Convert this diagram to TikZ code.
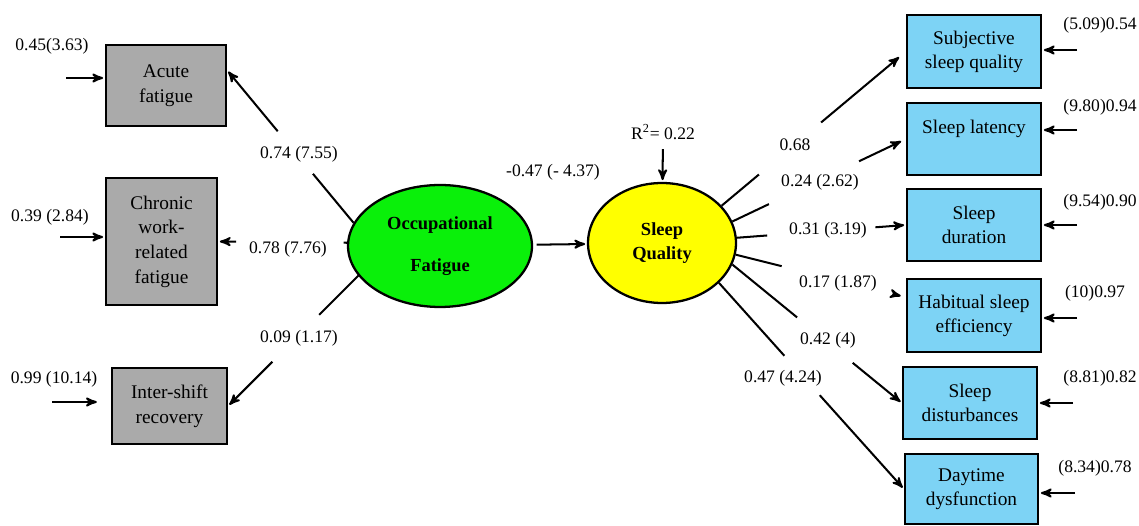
\documentclass[tikz,border=0pt]{standalone}
\usepackage{fontspec}
\setmainfont{Liberation Serif}
\usetikzlibrary{arrows,calc,shapes.geometric}
\definecolor{obsgray}{RGB}{170,170,170}
\definecolor{sleepblue}{RGB}{125,211,245}
\definecolor{latgreen}{RGB}{10,240,10}
\definecolor{latyellow}{RGB}{255,255,0}

\begin{document}
\begin{tikzpicture}[x=0.02cm,y=-0.02cm,->,>=stealth',shorten >=1pt,line width=1.15pt,
  obs node/.style={rectangle,draw,line width=1.3pt,fill=obsgray,align=center,inner sep=0pt,font=\fontsize{11}{14}\selectfont},
  sleep node/.style={rectangle,draw,line width=1.3pt,fill=sleepblue,align=center,inner sep=0pt,minimum width=2.68cm,font=\fontsize{11}{13.6}\selectfont},
  latent node/.style={ellipse,draw,line width=1.3pt,align=center,inner sep=0pt,font=\fontsize{10.5}{13.6}\selectfont\bfseries},
  coef node/.style={inner sep=1pt,font=\fontsize{10}{12}\selectfont}]

  \useasboundingbox (0,0) rectangle (1139,526);

  % observed fatigue indicators
  \node[obs node,minimum width=2.4cm,minimum height=1.62cm] (Acute) at (166,85.5) {Acute\\fatigue};
  \node[obs node,minimum width=2.22cm,minimum height=2.54cm] (Chronic) at (161.5,241.5) {Chronic\\work-\\related\\fatigue};
  \node[obs node,minimum width=2.3cm,minimum height=1.52cm] (Recovery) at (169.5,406) {Inter-shift\\recovery};

  % latent variables
  \node[latent node,fill=latgreen,minimum width=3.68cm,minimum height=2.44cm] (OccFatigue) at (440,246) {Occupational\\[10pt]Fatigue};
  \node[latent node,fill=latyellow,minimum width=2.96cm,minimum height=2.4cm] (SleepQ) at (662,243) {Sleep\\Quality};

  % sleep quality components
  \node[sleep node,minimum height=1.46cm] (Subjective) at (974,51.5) {Subjective\\sleep quality};
  \node[sleep node,minimum height=1.44cm] (Latency) at (974,139) {Sleep latency\\\mbox{}};
  \node[sleep node,minimum height=1.44cm] (Duration) at (974,225) {Sleep\\duration};
  \node[sleep node,minimum height=1.46cm] (Efficiency) at (974,315.5) {Habitual sleep\\efficiency};
  \node[sleep node,minimum height=1.44cm] (Disturb) at (970,403) {Sleep\\disturbances};
  \node[sleep node,minimum width=2.66cm,minimum height=1.4cm] (Daytime) at (971.5,489) {Daytime\\dysfunction};

  % coefficients
  \node[coef node] (cAcute) at (299,154) {0.74 (7.55)};
  \node[coef node] (cChronic) at (288,249) {0.78 (7.76)};
  \node[coef node] (cRecovery) at (299,338) {0.09 (1.17)};
  \node[coef node] (cPath) at (553,172) {-0.47 (- 4.37)};
  \node[coef node] (rsq) at (663,132) {R\textsuperscript{2}= 0.22};
  \node[coef node] (cSubjective) at (795,145) {0.68};
  \node[coef node] (cLatency) at (820,182) {0.24 (2.62)};
  \node[coef node] (cDuration) at (828,230) {0.31 (3.19)};
  \node[coef node] (cEfficiency) at (838,283) {0.17 (1.87)};
  \node[coef node] (cDisturb) at (828,340) {0.42 (4)};
  \node[coef node] (cDaytime) at (783,378) {0.47 (4.24)};

  % error terms
  \node[coef node] (errAcute) at (52,46) {0.45(3.63)};
  \node[coef node] (errChronic) at (50,217) {0.39 (2.84)};
  \node[coef node] (errRecovery) at (54,379) {0.99 (10.14)};
  \node[coef node] (errSubjective) at (1100,25) {(5.09)0.54};
  \node[coef node] (errLatency) at (1100,107) {(9.80)0.94};
  \node[coef node] (errDuration) at (1100,202) {(9.54)0.90};
  \node[coef node] (errEfficiency) at (1095,293) {(10)0.97};
  \node[coef node] (errDisturb) at (1100,378) {(8.81)0.82};
  \node[coef node] (errDaytime) at (1095,468) {(8.34)0.78};

  \coordinate (eAcute) at (66,78);
  \coordinate (eChronic) at (60,237);
  \coordinate (eRecovery) at (52,402);
  \coordinate (eSubjective) at (1077,50);
  \coordinate (eLatency) at (1077,130);
  \coordinate (eDuration) at (1077,225);
  \coordinate (eEfficiency) at (1077,318);
  \coordinate (eDisturb) at (1073,403);
  \coordinate (eDaytime) at (1075,493);

  \draw (eAcute) -- (eAcute -| Acute.west);
  \draw (eChronic) -- (eChronic -| Chronic.west);
  \draw[shorten >=8pt] (eRecovery) -- (eRecovery -| Recovery.west);
  \draw (eSubjective) -- (eSubjective -| Subjective.east);
  \draw (eLatency) -- (eLatency -| Latency.east);
  \draw (eDuration) -- (eDuration -| Duration.east);
  \draw (eEfficiency) -- (eEfficiency -| Efficiency.east);
  \draw (eDisturb) -- (eDisturb -| Disturb.east);
  \draw (eDaytime) -- (eDaytime -| Daytime.east);

  % loadings of occupational fatigue
  \draw[-] (OccFatigue.165) -- ($(OccFatigue.165)!0.33!(Acute.14)$);
  \draw ($(OccFatigue.165)!0.6!(Acute.14)$) -- (Acute.14);
  \draw[-] (OccFatigue.178) -- ($(OccFatigue.178)!0.04!(Chronic.east)$);
  \draw ($(OccFatigue.178)!0.86!(Chronic.east)$) -- (Chronic.east);
  \draw[-] (OccFatigue.200) -- ($(OccFatigue.200)!0.31!(Recovery.east)$);
  \draw ($(OccFatigue.200)!0.66!(Recovery.east)$) -- (Recovery.east);

  % structural path
  \draw[shorten <=2pt] (OccFatigue) -- (SleepQ);
  \draw[shorten <=4pt] (rsq) -- (SleepQ);

  % loadings of sleep quality
  \draw[-] (SleepQ.32) -- ($(SleepQ.32)!0.21!(Subjective.west)$);
  \draw[shorten >=5pt] ($(SleepQ.32)!0.54!(Subjective.west)$) -- (Subjective.west);
  \draw[-] (SleepQ.17) -- ($(SleepQ.17)!0.22!(Latency.west)$);
  \draw[shorten >=3pt] ($(SleepQ.17)!0.73!(Latency.west)$) -- (Latency.west);
  \draw[-] (SleepQ.4) -- ($(SleepQ.4)!0.19!(Duration.west)$);
  \draw ($(SleepQ.4)!0.82!(Duration.west)$) -- (Duration.west);
  \draw[-] (SleepQ.-9) -- ($(SleepQ.-9)!0.28!(Efficiency.165)$);
  \draw[shorten >=3pt] ($(SleepQ.-9)!0.95!(Efficiency.165)$) -- (Efficiency.165);
  \draw[-] (SleepQ.-17) -- ($(SleepQ.-17)!0.39!(Disturb.west)$);
  \draw ($(SleepQ.-17)!0.71!(Disturb.west)$) -- (Disturb.west);
  \draw[-] (SleepQ.-35) -- ($(SleepQ.-35)!0.36!(Daytime.west)$);
  \draw ($(SleepQ.-35)!0.545!(Daytime.west)$) -- (Daytime.west);

\end{tikzpicture}
\end{document}
